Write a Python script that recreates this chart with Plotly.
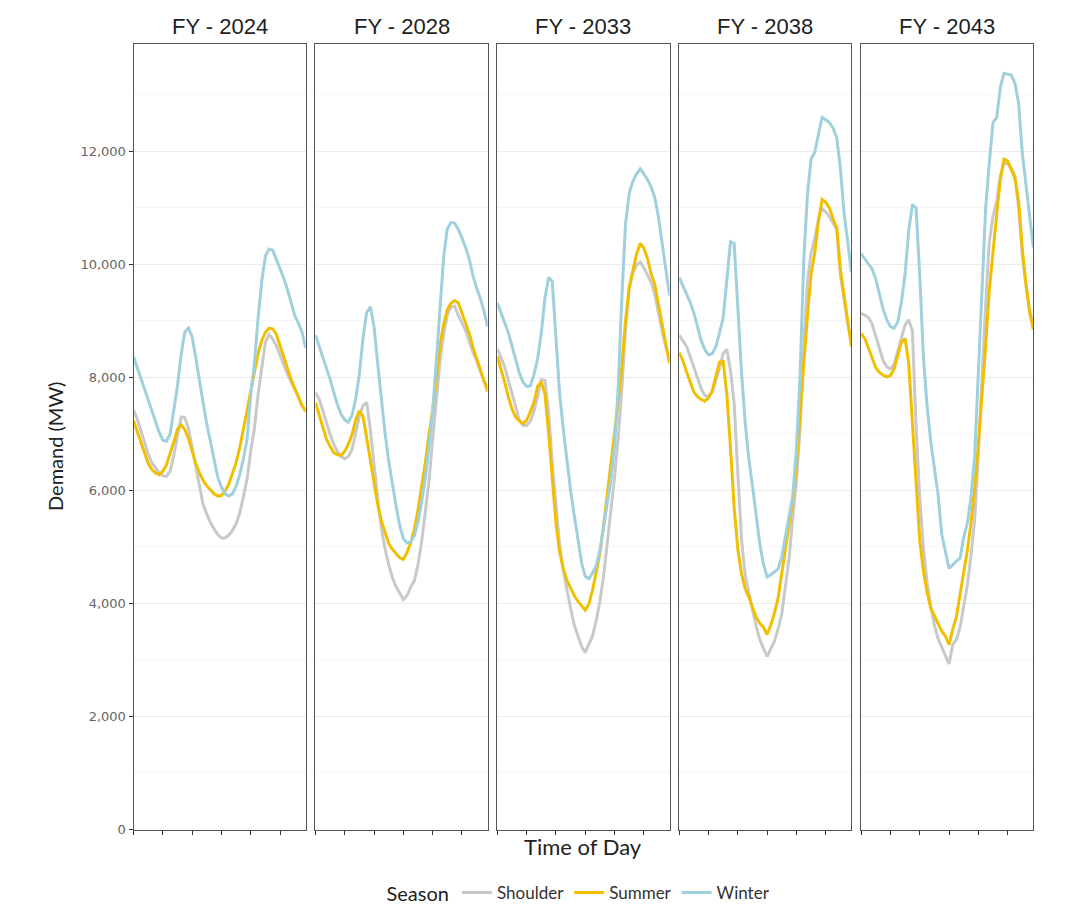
import plotly.graph_objects as go

years = ["FY - 2024", "FY - 2028", "FY - 2033", "FY - 2038", "FY - 2043"]
seasons = ["Shoulder", "Summer", "Winter"]
colors = {"Shoulder": "#c9c9c9", "Summer": "#f2bf00", "Winter": "#9fd0dd"}
time_idx = list(range(48))

shoulder_2024 = [7420, 7270, 7060, 6850, 6650, 6490, 6390, 6310, 6260, 6250, 6340, 6620, 6960, 7300, 7290, 7100,
                 6760, 6400, 6040, 5750, 5580, 5430, 5320, 5220, 5160, 5160, 5210, 5290, 5410, 5600, 5890, 6200,
                 6700, 7100, 7700, 8200, 8620, 8760, 8680, 8560, 8390, 8220, 8060, 7920, 7790, 7660, 7500, 7400]
summer_2024 = [7240, 7050, 6850, 6650, 6480, 6370, 6310, 6280, 6340, 6450, 6640, 6860, 7080, 7160, 7080, 6920,
               6700, 6480, 6310, 6180, 6080, 6000, 5940, 5900, 5910, 5990, 6110, 6300, 6490, 6760, 7070, 7410,
               7760, 8100, 8420, 8650, 8800, 8870, 8860, 8760, 8560, 8330, 8140, 7970, 7810, 7640, 7500, 7400]
winter_2024 = [8370, 8180, 7990, 7800, 7600, 7400, 7200, 7030, 6890, 6870, 7000, 7400, 7850, 8400, 8800, 8870,
               8720, 8350, 7920, 7550, 7180, 6870, 6560, 6230, 6060, 5940, 5900, 5940, 6070, 6280, 6560, 6900,
               7700, 8250, 9050, 9700, 10150, 10270, 10250, 10080, 9940, 9760, 9560, 9340, 9100, 8960, 8800, 8520]

shoulder_2028 = [7740, 7620, 7420, 7190, 6990, 6820, 6690, 6600, 6560, 6600, 6720, 7020, 7320, 7500, 7560, 7070,
                 6410, 5860, 5330, 4970, 4690, 4460, 4300, 4180, 4070, 4140, 4290, 4400, 4690, 5090, 5580, 6160,
                 6900, 7640, 8270, 8760, 9110, 9250, 9260, 9100, 8960, 8830, 8640, 8440, 8300, 8120, 7940, 7830]
summer_2028 = [7560, 7340, 7110, 6910, 6780, 6670, 6630, 6620, 6690, 6820, 6990, 7250, 7410, 7310, 6930, 6540,
               6130, 5750, 5460, 5250, 5060, 4960, 4880, 4810, 4780, 4900, 5070, 5310, 5660, 6040, 6490, 6990,
               7420, 7980, 8560, 8940, 9200, 9310, 9360, 9320, 9140, 8940, 8780, 8530, 8330, 8120, 7930, 7750]
winter_2028 = [8750, 8560, 8360, 8160, 7970, 7740, 7520, 7350, 7250, 7210, 7330, 7620, 8060, 8700, 9150, 9250,
               8900, 8250, 7600, 7020, 6520, 6110, 5730, 5380, 5150, 5070, 5090, 5200, 5440, 5790, 6220, 6780,
               7400, 8280, 9200, 10130, 10630, 10740, 10730, 10620, 10470, 10300, 10090, 9800, 9580, 9400, 9180, 8900]

shoulder_2033 = [8510, 8350, 8190, 7950, 7700, 7450, 7250, 7150, 7150, 7220, 7400, 7660, 7960, 7950, 7400, 6470,
                 5730, 5050, 4580, 4230, 3920, 3620, 3410, 3240, 3130, 3280, 3430, 3700, 4040, 4480, 5060, 5680,
                 6230, 6940, 7800, 8870, 9550, 9850, 9990, 10040, 9940, 9810, 9680, 9470, 9130, 8820, 8530, 8330]
summer_2033 = [8370, 8150, 7920, 7660, 7440, 7300, 7230, 7180, 7240, 7390, 7560, 7840, 7920, 7700, 7030, 6220,
               5430, 4910, 4620, 4410, 4260, 4140, 4040, 3950, 3880, 3990, 4240, 4550, 4890, 5370, 5900, 6450,
               7060, 7580, 8200, 9000, 9600, 9870, 10180, 10370, 10290, 10100, 9830, 9640, 9260, 8930, 8600, 8250]
winter_2033 = [9320, 9140, 8960, 8790, 8560, 8300, 8080, 7920, 7840, 7850, 8050, 8330, 8780, 9400, 9770, 9700,
               8650, 7720, 7090, 6510, 6000, 5560, 5120, 4720, 4480, 4440, 4540, 4670, 4940, 5330, 5730, 6180,
               6780, 7830, 9420, 10720, 11260, 11470, 11600, 11690, 11600, 11500, 11370, 11180, 10830, 10380, 9920, 9450]

shoulder_2038 = [8750, 8650, 8550, 8370, 8180, 7980, 7800, 7680, 7660, 7740, 7940, 8160, 8420, 8500, 8120, 7550,
                 6300, 5150, 4500, 4170, 3890, 3600, 3360, 3200, 3060, 3200, 3330, 3550, 3820, 4300, 4800, 5520,
                 6170, 7100, 8550, 9700, 10200, 10460, 10800, 10990, 10930, 10840, 10720, 10620, 9810, 9350, 8950, 8640]
summer_2038 = [8440, 8300, 8100, 7900, 7740, 7660, 7610, 7580, 7640, 7760, 8000, 8270, 8280, 7700, 6750, 5700,
               4960, 4530, 4260, 4120, 3930, 3760, 3650, 3580, 3450, 3620, 3830, 4100, 4540, 4960, 5350, 5820,
               6440, 7400, 8240, 9080, 9830, 10200, 10760, 11150, 11100, 11000, 10800, 10650, 9900, 9450, 9000, 8550]
winter_2038 = [9770, 9630, 9480, 9330, 9140, 8890, 8650, 8490, 8400, 8420, 8540, 8790, 9060, 9720, 10400, 10370,
               9200, 8100, 7200, 6560, 6080, 5580, 5050, 4700, 4470, 4510, 4560, 4610, 4830, 5170, 5520, 5900,
               6750, 8050, 10090, 11230, 11870, 11980, 12300, 12600, 12560, 12510, 12410, 12240, 11700, 10900, 10400, 9860]

shoulder_2043 = [9140, 9100, 9060, 8950, 8720, 8500, 8300, 8190, 8150, 8230, 8450, 8700, 8930, 9020, 8820, 7150,
                 5880, 4990, 4380, 3950, 3620, 3380, 3230, 3070, 2930, 3270, 3360, 3570, 3920, 4320, 4860, 5480,
                 6650, 8020, 9300, 10400, 10860, 11100, 11570, 11790, 11780, 11700, 11560, 10990, 10150, 9630, 9200, 8910]
summer_2043 = [8780, 8690, 8520, 8340, 8170, 8090, 8040, 8010, 8030, 8150, 8370, 8620, 8690, 8250, 7200, 6120,
               5120, 4580, 4200, 3920, 3790, 3640, 3510, 3420, 3270, 3540, 3760, 4150, 4540, 4940, 5420, 6050,
               6820, 7620, 8560, 9550, 10260, 10880, 11500, 11860, 11830, 11670, 11520, 11120, 10280, 9650, 9150, 8850]
winter_2043 = [10190, 10100, 10010, 9920, 9740, 9460, 9210, 9020, 8900, 8870, 8980, 9330, 9830, 10600, 11060, 11000,
               9810, 8370, 7500, 6870, 6380, 5930, 5230, 4940, 4620, 4680, 4750, 4800, 5170, 5420, 5880, 6620,
               8000, 9600, 11000, 11800, 12510, 12600, 13130, 13380, 13370, 13350, 13200, 12850, 11970, 11400, 10800, 10300]

data = {
    "FY - 2024": {"Shoulder": shoulder_2024, "Summer": summer_2024, "Winter": winter_2024},
    "FY - 2028": {"Shoulder": shoulder_2028, "Summer": summer_2028, "Winter": winter_2028},
    "FY - 2033": {"Shoulder": shoulder_2033, "Summer": summer_2033, "Winter": winter_2033},
    "FY - 2038": {"Shoulder": shoulder_2038, "Summer": summer_2038, "Winter": winter_2038},
    "FY - 2043": {"Shoulder": shoulder_2043, "Summer": summer_2043, "Winter": winter_2043},
}

W, H = 1072, 907
left0, pw, step = 133.5, 172.2, 181.9
top_px, bot_px = 44, 829.5
ydom = [1 - bot_px / H, 1 - top_px / H]

fig = go.Figure()
layout = dict(
    width=W, height=H,
    margin=dict(l=0, r=0, t=0, b=0, autoexpand=False),
    paper_bgcolor="white", plot_bgcolor="white",
    showlegend=True,
)
annotations = []
for k, yr in enumerate(years):
    x0 = left0 + k * step
    xdom = [x0 / W, (x0 + pw) / W]
    xname = "xaxis" if k == 0 else f"xaxis{k+1}"
    yname = "yaxis" if k == 0 else f"yaxis{k+1}"
    xref = "x" if k == 0 else f"x{k+1}"
    yref = "y" if k == 0 else f"y{k+1}"
    layout[xname] = dict(
        domain=xdom, anchor=yref, range=[0, 47],
        tickvals=[0, 8, 16, 24, 32, 40], ticktext=[""] * 6,
        ticks="outside", ticklen=4, tickcolor="#333333", tickwidth=1,
        showgrid=False, zeroline=False, showline=True, linecolor="#555555",
        linewidth=1, mirror=True, automargin=False, fixedrange=True,
    )
    layout[yname] = dict(
        domain=ydom, anchor=xref, range=[0, 13900],
        tickvals=[0, 2000, 4000, 6000, 8000, 10000, 12000],
        tickformat=",", showticklabels=(k == 0),
        ticks="outside" if k == 0 else "", ticklen=4, tickcolor="#333333",
        tickfont=dict(family="DejaVu Sans", size=13, color="#666666"),
        showgrid=True, gridcolor="#ebebeb", gridwidth=1,
        minor=dict(dtick=1000, tick0=0, showgrid=True, gridcolor="#f6f6f6", gridwidth=1),
        zeroline=False, showline=True, linecolor="#555555", linewidth=1, mirror=True,
        automargin=False, fixedrange=True,
    )
    for s in seasons:
        fig.add_trace(go.Scatter(
            x=time_idx, y=data[yr][s], mode="lines", name=s,
            line=dict(color=colors[s], width=3),
            xaxis=xref, yaxis=yref, legendgroup=s, showlegend=(k == 0),
            hovertemplate=s + ": %{y:,.0f} MW<extra></extra>",
        ))
    annotations.append(dict(
        text=yr, x=(x0 + pw / 2) / W, y=1 - 27 / H, xref="paper", yref="paper",
        showarrow=False, xanchor="center", yanchor="middle",
        font=dict(family="Liberation Sans", size=22, color="#222222"),
    ))

annotations.append(dict(
    text="Demand (MW)", x=55 / W, y=1 - 447 / H, xref="paper", yref="paper",
    showarrow=False, textangle=-90, xanchor="center", yanchor="middle",
    font=dict(family="Lato", size=20, color="#222222"),
))
annotations.append(dict(
    text="Time of Day", x=583 / W, y=1 - 846 / H, xref="paper", yref="paper",
    showarrow=False, xanchor="center", yanchor="middle",
    font=dict(family="Lato", size=22, color="#222222"),
))
layout["annotations"] = annotations
layout["legend"] = dict(
    orientation="h", x=580 / W, xanchor="center", y=-4 / H, yanchor="bottom",
    title=dict(text="Season", side="left", font=dict(family="Lato", size=20, color="#222222")),
    font=dict(family="Lato", size=17, color="#333333"),
    bgcolor="rgba(0,0,0,0)", itemwidth=30, tracegroupgap=0,
)
fig.update_layout(**layout)
fig.write_html("out.html")
